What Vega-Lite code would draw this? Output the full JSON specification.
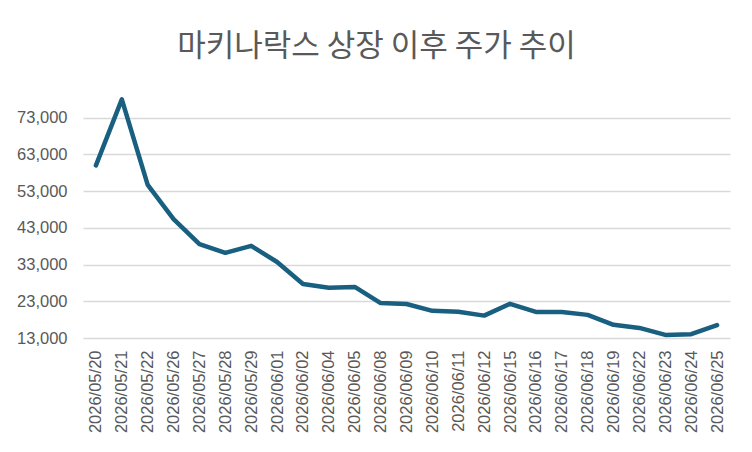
{
  "$schema": "https://vega.github.io/schema/vega-lite/v6.json",
  "autosize": {"type": "none"},
  "width": 647,
  "height": 246,
  "padding": {"left": 83, "top": 92, "right": 22, "bottom": 114},
  "background": "white",
  "title": {
    "text": "마키나락스 상장 이후 주가 추이",
    "font": "Noto Sans CJK KR",
    "fontSize": 31,
    "fontWeight": "normal",
    "color": "#595959",
    "anchor": "middle",
    "dx": -30,
    "offset": 29
  },
  "data": {
    "values": [
      {"date": "2026/05/20", "price": 60000},
      {"date": "2026/05/21", "price": 78000},
      {"date": "2026/05/22", "price": 54700},
      {"date": "2026/05/26", "price": 45400},
      {"date": "2026/05/27", "price": 38600},
      {"date": "2026/05/28", "price": 36200},
      {"date": "2026/05/29", "price": 38100},
      {"date": "2026/06/01", "price": 33700},
      {"date": "2026/06/02", "price": 27700},
      {"date": "2026/06/04", "price": 26700},
      {"date": "2026/06/05", "price": 26900},
      {"date": "2026/06/08", "price": 22500},
      {"date": "2026/06/09", "price": 22250},
      {"date": "2026/06/10", "price": 20400},
      {"date": "2026/06/11", "price": 20150},
      {"date": "2026/06/12", "price": 19100},
      {"date": "2026/06/15", "price": 22300},
      {"date": "2026/06/16", "price": 20100},
      {"date": "2026/06/17", "price": 20100},
      {"date": "2026/06/18", "price": 19300},
      {"date": "2026/06/19", "price": 16600},
      {"date": "2026/06/22", "price": 15750},
      {"date": "2026/06/23", "price": 13850},
      {"date": "2026/06/24", "price": 14050},
      {"date": "2026/06/25", "price": 16500}
    ]
  },
  "mark": {"type": "line", "color": "#195f80", "strokeWidth": 4.5, "strokeJoin": "round", "strokeCap": "round"},
  "encoding": {
    "x": {
      "field": "date",
      "type": "ordinal",
      "sort": null,
      "scale": {"type": "point", "padding": 0.5},
      "axis": {
        "title": null,
        "labelAngle": -90,
        "labelFont": "Liberation Sans",
        "labelFontSize": 16.5,
        "labelColor": "#595959",
        "labelPadding": 12,
        "domain": false,
        "ticks": false,
        "grid": false
      }
    },
    "y": {
      "field": "price",
      "type": "quantitative",
      "scale": {"domain": [13000, 80000], "nice": false, "zero": false},
      "axis": {
        "title": null,
        "values": [13000, 23000, 33000, 43000, 53000, 63000, 73000],
        "format": ",.0f",
        "labelFont": "Liberation Sans",
        "labelFontSize": 16.5,
        "labelColor": "#595959",
        "labelPadding": 16,
        "domain": false,
        "ticks": false,
        "grid": true,
        "gridColor": "#d9d9d9",
        "gridWidth": 1.5
      }
    }
  },
  "config": {"view": {"stroke": null}}
}
